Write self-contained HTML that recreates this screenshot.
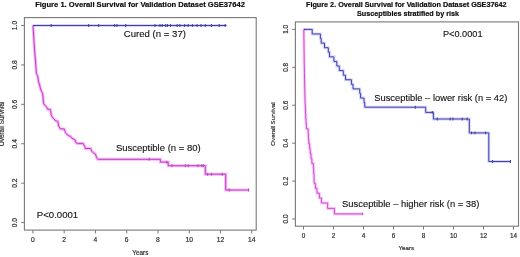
<!DOCTYPE html>
<html><head><meta charset="utf-8"><style>
html,body{margin:0;padding:0;background:#fff;width:520px;height:257px;overflow:hidden}
svg{display:block;font-family:"Liberation Sans", sans-serif;will-change:transform}
.tk{fill:#2a2a2a;stroke:#2a2a2a;stroke-width:0.18px}
.lb{fill:#111;stroke:#111;stroke-width:0.12px}
.tt{fill:#0a0a0a;stroke:#0a0a0a;stroke-width:0.18px}
</style></head><body>
<svg width="520" height="257" viewBox="0 0 520 257">
<rect width="520" height="257" fill="#fff"/>
<rect x="24.40" y="17.60" width="231.80" height="212.50" fill="none" stroke="#787878" stroke-width="1.1"/>
<line x1="21.20" y1="222.60" x2="24.40" y2="222.60" stroke="#787878" stroke-width="1"/>
<text transform="translate(14.60,222.60) rotate(-90)" x="0" y="2.40" text-anchor="middle" font-size="6.7" class="tk">0.0</text>
<line x1="21.20" y1="183.18" x2="24.40" y2="183.18" stroke="#787878" stroke-width="1"/>
<text transform="translate(14.60,183.18) rotate(-90)" x="0" y="2.40" text-anchor="middle" font-size="6.7" class="tk">0.2</text>
<line x1="21.20" y1="143.76" x2="24.40" y2="143.76" stroke="#787878" stroke-width="1"/>
<text transform="translate(14.60,143.76) rotate(-90)" x="0" y="2.40" text-anchor="middle" font-size="6.7" class="tk">0.4</text>
<line x1="21.20" y1="104.34" x2="24.40" y2="104.34" stroke="#787878" stroke-width="1"/>
<text transform="translate(14.60,104.34) rotate(-90)" x="0" y="2.40" text-anchor="middle" font-size="6.7" class="tk">0.6</text>
<line x1="21.20" y1="64.92" x2="24.40" y2="64.92" stroke="#787878" stroke-width="1"/>
<text transform="translate(14.60,64.92) rotate(-90)" x="0" y="2.40" text-anchor="middle" font-size="6.7" class="tk">0.8</text>
<line x1="21.20" y1="25.50" x2="24.40" y2="25.50" stroke="#787878" stroke-width="1"/>
<text transform="translate(14.60,25.50) rotate(-90)" x="0" y="2.40" text-anchor="middle" font-size="6.7" class="tk">1.0</text>
<line x1="32.90" y1="230.10" x2="32.90" y2="233.40" stroke="#787878" stroke-width="1"/>
<text x="32.90" y="242.00" text-anchor="middle" font-size="6.7" class="tk">0</text>
<line x1="64.17" y1="230.10" x2="64.17" y2="233.40" stroke="#787878" stroke-width="1"/>
<text x="64.17" y="242.00" text-anchor="middle" font-size="6.7" class="tk">2</text>
<line x1="95.44" y1="230.10" x2="95.44" y2="233.40" stroke="#787878" stroke-width="1"/>
<text x="95.44" y="242.00" text-anchor="middle" font-size="6.7" class="tk">4</text>
<line x1="126.71" y1="230.10" x2="126.71" y2="233.40" stroke="#787878" stroke-width="1"/>
<text x="126.71" y="242.00" text-anchor="middle" font-size="6.7" class="tk">6</text>
<line x1="157.98" y1="230.10" x2="157.98" y2="233.40" stroke="#787878" stroke-width="1"/>
<text x="157.98" y="242.00" text-anchor="middle" font-size="6.7" class="tk">8</text>
<line x1="189.25" y1="230.10" x2="189.25" y2="233.40" stroke="#787878" stroke-width="1"/>
<text x="189.25" y="242.00" text-anchor="middle" font-size="6.7" class="tk">10</text>
<line x1="220.52" y1="230.10" x2="220.52" y2="233.40" stroke="#787878" stroke-width="1"/>
<text x="220.52" y="242.00" text-anchor="middle" font-size="6.7" class="tk">12</text>
<line x1="251.79" y1="230.10" x2="251.79" y2="233.40" stroke="#787878" stroke-width="1"/>
<text x="251.79" y="242.00" text-anchor="middle" font-size="6.7" class="tk">14</text>
<text x="140.30" y="255.00" text-anchor="middle" font-size="6.4" class="tk">Years</text>
<text transform="translate(2.10,123.85) rotate(-90)" x="0" y="2.29" text-anchor="middle" font-size="6.4" class="tk">Overall Survival</text>
<path d="M33.00,25.50 L33.20,29.00 L34.80,53.00 L35.40,60.00 L36.40,73.50 L37.50,75.50 L38.60,82.00 L39.60,85.00 L40.30,88.00 L41.50,91.50 L42.70,93.80 L43.50,103.20 L45.00,105.50 L46.80,107.30 L47.50,109.10 L50.20,109.40 L50.80,111.50 L51.20,115.00 L52.60,117.50 L54.90,120.00 L56.10,121.00 L57.80,121.30 L58.70,126.20 L60.40,128.90 L64.20,128.90 L65.30,132.20 L66.90,134.40 L69.10,136.00 L70.40,136.20 L71.80,138.20 L74.00,139.30 L75.20,140.00 L75.80,142.50 L77.30,143.40 L83.10,143.40 L84.70,146.40 L85.30,148.50 L90.70,148.50 L91.80,151.30 L93.40,152.90 L95.40,154.00 L96.70,157.80 L97.80,159.30 L160.40,159.30 L160.40,162.10 L168.20,162.10 L168.20,165.70 L205.30,165.70 L205.30,174.20 L225.70,174.20 L225.70,190.00 L248.80,190.00" fill="none" stroke="#ff28ff" stroke-opacity="0.38" stroke-width="3.0" stroke-linejoin="miter"/>
<path d="M33.00,25.50 L33.20,29.00 L34.80,53.00 L35.40,60.00 L36.40,73.50 L37.50,75.50 L38.60,82.00 L39.60,85.00 L40.30,88.00 L41.50,91.50 L42.70,93.80 L43.50,103.20 L45.00,105.50 L46.80,107.30 L47.50,109.10 L50.20,109.40 L50.80,111.50 L51.20,115.00 L52.60,117.50 L54.90,120.00 L56.10,121.00 L57.80,121.30 L58.70,126.20 L60.40,128.90 L64.20,128.90 L65.30,132.20 L66.90,134.40 L69.10,136.00 L70.40,136.20 L71.80,138.20 L74.00,139.30 L75.20,140.00 L75.80,142.50 L77.30,143.40 L83.10,143.40 L84.70,146.40 L85.30,148.50 L90.70,148.50 L91.80,151.30 L93.40,152.90 L95.40,154.00 L96.70,157.80 L97.80,159.30 L160.40,159.30 L160.40,162.10 L168.20,162.10 L168.20,165.70 L205.30,165.70 L205.30,174.20 L225.70,174.20 L225.70,190.00 L248.80,190.00" fill="none" stroke="#b04cb4" stroke-width="1.0" stroke-linejoin="miter"/>
<line x1="149.20" y1="157.85" x2="149.20" y2="160.75" stroke="#b04cb4" stroke-width="1.05"/>
<line x1="166.80" y1="160.65" x2="166.80" y2="163.55" stroke="#b04cb4" stroke-width="1.05"/>
<line x1="171.90" y1="164.25" x2="171.90" y2="167.15" stroke="#b04cb4" stroke-width="1.05"/>
<line x1="185.40" y1="164.25" x2="185.40" y2="167.15" stroke="#b04cb4" stroke-width="1.05"/>
<line x1="188.20" y1="164.25" x2="188.20" y2="167.15" stroke="#b04cb4" stroke-width="1.05"/>
<line x1="197.90" y1="164.25" x2="197.90" y2="167.15" stroke="#b04cb4" stroke-width="1.05"/>
<line x1="201.80" y1="164.25" x2="201.80" y2="167.15" stroke="#b04cb4" stroke-width="1.05"/>
<line x1="203.30" y1="164.25" x2="203.30" y2="167.15" stroke="#b04cb4" stroke-width="1.05"/>
<line x1="207.60" y1="172.75" x2="207.60" y2="175.65" stroke="#b04cb4" stroke-width="1.05"/>
<line x1="211.50" y1="172.75" x2="211.50" y2="175.65" stroke="#b04cb4" stroke-width="1.05"/>
<line x1="222.20" y1="172.75" x2="222.20" y2="175.65" stroke="#b04cb4" stroke-width="1.05"/>
<line x1="229.20" y1="188.55" x2="229.20" y2="191.45" stroke="#b04cb4" stroke-width="1.05"/>
<line x1="248.60" y1="188.55" x2="248.60" y2="191.45" stroke="#b04cb4" stroke-width="1.05"/>
<path d="M33.00,25.50 L226.50,25.50" fill="none" stroke="#3434ff" stroke-opacity="0.2" stroke-width="3.0" stroke-linejoin="miter"/>
<path d="M33.00,25.50 L226.50,25.50" fill="none" stroke="#4040a6" stroke-width="1.0" stroke-linejoin="miter"/>
<line x1="51.20" y1="24.05" x2="51.20" y2="26.95" stroke="#4040a6" stroke-width="1.05"/>
<line x1="88.70" y1="24.05" x2="88.70" y2="26.95" stroke="#4040a6" stroke-width="1.05"/>
<line x1="98.70" y1="24.05" x2="98.70" y2="26.95" stroke="#4040a6" stroke-width="1.05"/>
<line x1="114.60" y1="24.05" x2="114.60" y2="26.95" stroke="#4040a6" stroke-width="1.05"/>
<line x1="116.90" y1="24.05" x2="116.90" y2="26.95" stroke="#4040a6" stroke-width="1.05"/>
<line x1="125.70" y1="24.05" x2="125.70" y2="26.95" stroke="#4040a6" stroke-width="1.05"/>
<line x1="155.00" y1="24.05" x2="155.00" y2="26.95" stroke="#4040a6" stroke-width="1.05"/>
<line x1="160.00" y1="24.05" x2="160.00" y2="26.95" stroke="#4040a6" stroke-width="1.05"/>
<line x1="162.30" y1="24.05" x2="162.30" y2="26.95" stroke="#4040a6" stroke-width="1.05"/>
<line x1="165.60" y1="24.05" x2="165.60" y2="26.95" stroke="#4040a6" stroke-width="1.05"/>
<line x1="167.40" y1="24.05" x2="167.40" y2="26.95" stroke="#4040a6" stroke-width="1.05"/>
<line x1="170.50" y1="24.05" x2="170.50" y2="26.95" stroke="#4040a6" stroke-width="1.05"/>
<line x1="177.20" y1="24.05" x2="177.20" y2="26.95" stroke="#4040a6" stroke-width="1.05"/>
<line x1="179.80" y1="24.05" x2="179.80" y2="26.95" stroke="#4040a6" stroke-width="1.05"/>
<line x1="184.70" y1="24.05" x2="184.70" y2="26.95" stroke="#4040a6" stroke-width="1.05"/>
<line x1="188.20" y1="24.05" x2="188.20" y2="26.95" stroke="#4040a6" stroke-width="1.05"/>
<line x1="192.40" y1="24.05" x2="192.40" y2="26.95" stroke="#4040a6" stroke-width="1.05"/>
<line x1="197.10" y1="24.05" x2="197.10" y2="26.95" stroke="#4040a6" stroke-width="1.05"/>
<line x1="201.00" y1="24.05" x2="201.00" y2="26.95" stroke="#4040a6" stroke-width="1.05"/>
<line x1="205.30" y1="24.05" x2="205.30" y2="26.95" stroke="#4040a6" stroke-width="1.05"/>
<line x1="211.40" y1="24.05" x2="211.40" y2="26.95" stroke="#4040a6" stroke-width="1.05"/>
<line x1="219.20" y1="24.05" x2="219.20" y2="26.95" stroke="#4040a6" stroke-width="1.05"/>
<line x1="225.20" y1="24.05" x2="225.20" y2="26.95" stroke="#4040a6" stroke-width="1.05"/>
<text x="123.8" y="37.4" font-size="9.6" class="lb">Cured (n = 37)</text>
<text x="115.9" y="150.9" font-size="9.5" class="lb">Susceptible (n = 80)</text>
<text x="36.8" y="218.4" font-size="9.6" class="lb">P&lt;0.0001</text>
<text x="140.0" y="6.9" text-anchor="middle" font-size="7.58" font-weight="bold" class="tt">Figure 1. Overall Survival for Validation Dataset GSE37642</text>
<rect x="295.40" y="21.90" width="223.10" height="204.30" fill="none" stroke="#787878" stroke-width="1.1"/>
<line x1="292.20" y1="219.00" x2="295.40" y2="219.00" stroke="#787878" stroke-width="1"/>
<text transform="translate(285.50,219.00) rotate(-90)" x="0" y="2.29" text-anchor="middle" font-size="6.4" class="tk">0.0</text>
<line x1="292.20" y1="181.08" x2="295.40" y2="181.08" stroke="#787878" stroke-width="1"/>
<text transform="translate(285.50,181.08) rotate(-90)" x="0" y="2.29" text-anchor="middle" font-size="6.4" class="tk">0.2</text>
<line x1="292.20" y1="143.16" x2="295.40" y2="143.16" stroke="#787878" stroke-width="1"/>
<text transform="translate(285.50,143.16) rotate(-90)" x="0" y="2.29" text-anchor="middle" font-size="6.4" class="tk">0.4</text>
<line x1="292.20" y1="105.24" x2="295.40" y2="105.24" stroke="#787878" stroke-width="1"/>
<text transform="translate(285.50,105.24) rotate(-90)" x="0" y="2.29" text-anchor="middle" font-size="6.4" class="tk">0.6</text>
<line x1="292.20" y1="67.32" x2="295.40" y2="67.32" stroke="#787878" stroke-width="1"/>
<text transform="translate(285.50,67.32) rotate(-90)" x="0" y="2.29" text-anchor="middle" font-size="6.4" class="tk">0.8</text>
<line x1="292.20" y1="29.40" x2="295.40" y2="29.40" stroke="#787878" stroke-width="1"/>
<text transform="translate(285.50,29.40) rotate(-90)" x="0" y="2.29" text-anchor="middle" font-size="6.4" class="tk">1.0</text>
<line x1="303.50" y1="226.20" x2="303.50" y2="229.50" stroke="#787878" stroke-width="1"/>
<text x="303.50" y="237.50" text-anchor="middle" font-size="6.4" class="tk">0</text>
<line x1="333.50" y1="226.20" x2="333.50" y2="229.50" stroke="#787878" stroke-width="1"/>
<text x="333.50" y="237.50" text-anchor="middle" font-size="6.4" class="tk">2</text>
<line x1="363.50" y1="226.20" x2="363.50" y2="229.50" stroke="#787878" stroke-width="1"/>
<text x="363.50" y="237.50" text-anchor="middle" font-size="6.4" class="tk">4</text>
<line x1="393.50" y1="226.20" x2="393.50" y2="229.50" stroke="#787878" stroke-width="1"/>
<text x="393.50" y="237.50" text-anchor="middle" font-size="6.4" class="tk">6</text>
<line x1="423.50" y1="226.20" x2="423.50" y2="229.50" stroke="#787878" stroke-width="1"/>
<text x="423.50" y="237.50" text-anchor="middle" font-size="6.4" class="tk">8</text>
<line x1="453.50" y1="226.20" x2="453.50" y2="229.50" stroke="#787878" stroke-width="1"/>
<text x="453.50" y="237.50" text-anchor="middle" font-size="6.4" class="tk">10</text>
<line x1="483.50" y1="226.20" x2="483.50" y2="229.50" stroke="#787878" stroke-width="1"/>
<text x="483.50" y="237.50" text-anchor="middle" font-size="6.4" class="tk">12</text>
<line x1="513.50" y1="226.20" x2="513.50" y2="229.50" stroke="#787878" stroke-width="1"/>
<text x="513.50" y="237.50" text-anchor="middle" font-size="6.4" class="tk">14</text>
<text x="406.30" y="250.10" text-anchor="middle" font-size="6.2" class="tk">Years</text>
<text transform="translate(273.00,124.05) rotate(-90)" x="0" y="2.22" text-anchor="middle" font-size="6.2" class="tk">Overall Survival</text>
<path d="M303.80,29.40 L303.83,29.40 L303.83,34.37 L303.90,34.37 L303.90,39.34 L303.96,39.34 L303.96,44.31 L304.03,44.31 L304.03,49.28 L304.09,49.28 L304.09,54.25 L304.16,54.25 L304.16,59.22 L304.23,59.22 L304.23,64.19 L304.33,64.19 L304.33,69.16 L304.43,69.16 L304.43,74.13 L304.53,74.13 L304.53,79.10 L304.63,79.10 L304.63,84.07 L304.73,84.07 L304.73,89.04 L304.83,89.04 L304.83,94.01 L304.93,94.01 L304.93,98.98 L305.06,98.98 L305.06,103.95 L305.28,103.95 L305.28,108.92 L305.49,108.92 L305.49,113.89 L305.70,113.89 L305.70,118.86 L306.03,118.86 L306.03,123.83 L306.46,123.83 L306.46,128.80 L308.16,128.80 L308.16,133.77 L308.41,133.77 L308.41,138.74 L308.82,138.74 L308.82,143.71 L309.63,143.71 L309.63,148.68 L310.27,148.68 L310.27,153.65 L311.02,153.65 L311.02,158.62 L311.87,158.62 L311.87,163.59 L313.39,163.59 L313.39,168.56 L313.71,168.56 L313.71,173.53 L314.04,173.53 L314.04,178.50 L314.20,183.40 L315.40,183.40 L315.40,188.30 L317.00,188.30 L317.00,193.20 L319.40,193.20 L319.40,198.00 L321.40,198.00 L321.40,203.00 L327.60,203.00 L327.60,208.40 L334.40,208.40 L334.40,213.90 L362.70,213.90" fill="none" stroke="#ff38ff" stroke-opacity="0.3" stroke-width="3.0" stroke-linejoin="miter"/>
<path d="M303.80,29.40 L303.83,29.40 L303.83,34.37 L303.90,34.37 L303.90,39.34 L303.96,39.34 L303.96,44.31 L304.03,44.31 L304.03,49.28 L304.09,49.28 L304.09,54.25 L304.16,54.25 L304.16,59.22 L304.23,59.22 L304.23,64.19 L304.33,64.19 L304.33,69.16 L304.43,69.16 L304.43,74.13 L304.53,74.13 L304.53,79.10 L304.63,79.10 L304.63,84.07 L304.73,84.07 L304.73,89.04 L304.83,89.04 L304.83,94.01 L304.93,94.01 L304.93,98.98 L305.06,98.98 L305.06,103.95 L305.28,103.95 L305.28,108.92 L305.49,108.92 L305.49,113.89 L305.70,113.89 L305.70,118.86 L306.03,118.86 L306.03,123.83 L306.46,123.83 L306.46,128.80 L308.16,128.80 L308.16,133.77 L308.41,133.77 L308.41,138.74 L308.82,138.74 L308.82,143.71 L309.63,143.71 L309.63,148.68 L310.27,148.68 L310.27,153.65 L311.02,153.65 L311.02,158.62 L311.87,158.62 L311.87,163.59 L313.39,163.59 L313.39,168.56 L313.71,168.56 L313.71,173.53 L314.04,173.53 L314.04,178.50 L314.20,183.40 L315.40,183.40 L315.40,188.30 L317.00,188.30 L317.00,193.20 L319.40,193.20 L319.40,198.00 L321.40,198.00 L321.40,203.00 L327.60,203.00 L327.60,208.40 L334.40,208.40 L334.40,213.90 L362.70,213.90" fill="none" stroke="#bb58bf" stroke-width="1.0" stroke-linejoin="miter"/>
<line x1="362.70" y1="212.45" x2="362.70" y2="215.35" stroke="#bb58bf" stroke-width="1.05"/>
<path d="M303.80,29.40 L312.20,29.40 L312.20,33.98 L320.40,33.98 L320.40,38.55 L321.20,38.55 L321.20,43.13 L324.50,43.13 L324.50,47.71 L328.30,47.71 L328.30,52.28 L329.50,52.28 L329.50,56.86 L333.90,56.86 L333.90,61.44 L336.80,61.44 L336.80,66.01 L339.30,66.01 L339.30,70.59 L343.30,70.59 L343.30,75.16 L345.50,75.16 L345.50,79.74 L351.40,79.74 L351.40,84.32 L353.00,84.32 L353.00,88.89 L359.75,88.89 L359.75,93.47 L360.60,93.47 L360.60,98.05 L364.00,98.05 L364.00,102.62 L364.80,102.62 L364.80,107.20 L425.70,107.20 L425.70,112.40 L433.40,112.40 L433.40,119.00 L469.30,119.00 L469.30,132.90 L488.80,132.90 L488.80,161.50 L511.00,161.50" fill="none" stroke="#3434ff" stroke-opacity="0.2" stroke-width="3.0" stroke-linejoin="miter"/>
<path d="M303.80,29.40 L312.20,29.40 L312.20,33.98 L320.40,33.98 L320.40,38.55 L321.20,38.55 L321.20,43.13 L324.50,43.13 L324.50,47.71 L328.30,47.71 L328.30,52.28 L329.50,52.28 L329.50,56.86 L333.90,56.86 L333.90,61.44 L336.80,61.44 L336.80,66.01 L339.30,66.01 L339.30,70.59 L343.30,70.59 L343.30,75.16 L345.50,75.16 L345.50,79.74 L351.40,79.74 L351.40,84.32 L353.00,84.32 L353.00,88.89 L359.75,88.89 L359.75,93.47 L360.60,93.47 L360.60,98.05 L364.00,98.05 L364.00,102.62 L364.80,102.62 L364.80,107.20 L425.70,107.20 L425.70,112.40 L433.40,112.40 L433.40,119.00 L469.30,119.00 L469.30,132.90 L488.80,132.90 L488.80,161.50 L511.00,161.50" fill="none" stroke="#4040a6" stroke-width="1.0" stroke-linejoin="miter"/>
<line x1="415.30" y1="105.75" x2="415.30" y2="108.65" stroke="#4040a6" stroke-width="1.05"/>
<line x1="432.30" y1="110.95" x2="432.30" y2="113.85" stroke="#4040a6" stroke-width="1.05"/>
<line x1="437.30" y1="117.55" x2="437.30" y2="120.45" stroke="#4040a6" stroke-width="1.05"/>
<line x1="450.10" y1="117.55" x2="450.10" y2="120.45" stroke="#4040a6" stroke-width="1.05"/>
<line x1="452.90" y1="117.55" x2="452.90" y2="120.45" stroke="#4040a6" stroke-width="1.05"/>
<line x1="462.30" y1="117.55" x2="462.30" y2="120.45" stroke="#4040a6" stroke-width="1.05"/>
<line x1="467.20" y1="117.55" x2="467.20" y2="120.45" stroke="#4040a6" stroke-width="1.05"/>
<line x1="471.60" y1="131.45" x2="471.60" y2="134.35" stroke="#4040a6" stroke-width="1.05"/>
<line x1="475.00" y1="131.45" x2="475.00" y2="134.35" stroke="#4040a6" stroke-width="1.05"/>
<line x1="485.60" y1="131.45" x2="485.60" y2="134.35" stroke="#4040a6" stroke-width="1.05"/>
<line x1="492.60" y1="160.05" x2="492.60" y2="162.95" stroke="#4040a6" stroke-width="1.05"/>
<line x1="510.40" y1="160.05" x2="510.40" y2="162.95" stroke="#4040a6" stroke-width="1.05"/>
<text x="374.3" y="100.8" font-size="9.34" class="lb">Susceptible – lower risk (n = 42)</text>
<text x="342.1" y="206.7" font-size="9.4" class="lb">Susceptible – higher risk (n = 38)</text>
<text x="442.9" y="37.3" font-size="9.2" class="lb">P&lt;0.0001</text>
<text x="406.3" y="7.0" text-anchor="middle" font-size="7.25" font-weight="bold" class="tt">Figure 2. Overall Survival for Validation Dataset GSE37642</text>
<text x="408.0" y="15.9" text-anchor="middle" font-size="7.2" font-weight="bold" class="tt">Susceptibles stratified by risk</text>
</svg>
</body></html>
